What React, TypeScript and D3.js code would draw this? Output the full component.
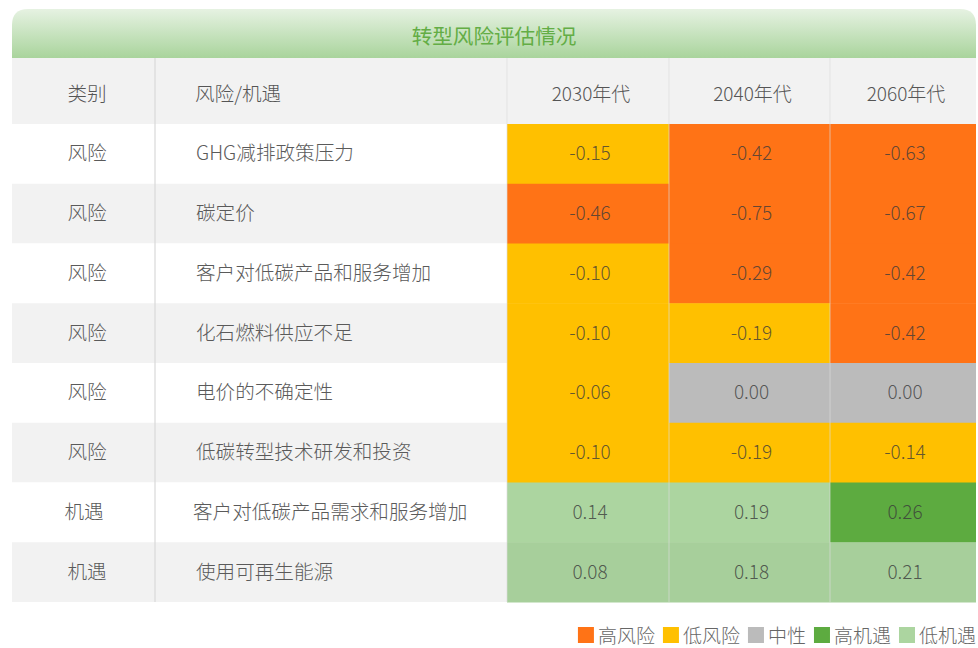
import React, { useRef, useEffect } from 'react';
import * as d3 from 'd3';

const title = '转型风险评估情况';
const headers = ['类别', '风险/机遇', '2030年代', '2040年代', '2060年代'];
const decades = ['2030年代', '2040年代', '2060年代'];
const types = ['风险', '风险', '风险', '风险', '风险', '风险', '机遇', '机遇'];
const items = [
  'GHG减排政策压力',
  '碳定价',
  '客户对低碳产品和服务增加',
  '化石燃料供应不足',
  '电价的不确定性',
  '低碳转型技术研发和投资',
  '客户对低碳产品需求和服务增加',
  '使用可再生能源',
];
const v2030 = [-0.15, -0.46, -0.1, -0.1, -0.06, -0.1, 0.14, 0.08];
const v2040 = [-0.42, -0.75, -0.29, -0.19, 0.0, -0.19, 0.19, 0.18];
const v2060 = [-0.63, -0.67, -0.42, -0.42, 0.0, -0.14, 0.26, 0.21];
const legendLabels = ['高风险', '低风险', '中性', '高机遇', '低机遇'];
const legendColors = ['#ff7316', '#ffc000', '#bbbbbb', '#5dab40', '#acd5a0'];

const W = 978;
const H = 648;
const FONT = '"Noto Sans CJK SC", "Noto Sans", sans-serif';

function App() {
  const ref = useRef<SVGSVGElement | null>(null);

  useEffect(() => {
    const svg = d3.select(ref.current);
    svg.selectAll('*').remove();

    const left = 12;
    const right = 976;
    const titleTop = 9;
    const headTop = 58;
    const bodyTop = 124;
    const bodyBottom = 602;
    const fs = 19.6;
    // column edges: 类别 | 风险/机遇 | three decades
    const colEdges = [left, 155, 507, 669, 830, right];

    const y = d3.scaleBand<number>()
      .domain(d3.range(items.length))
      .range([bodyTop, bodyBottom]);
    const yMid = (i: number) => y(i)! + y.bandwidth() / 2 - 2;

    const xDec = d3.scaleOrdinal<string, number>()
      .domain(decades)
      .range(colEdges.slice(2, 5));
    const decW = (d: string) => colEdges[decades.indexOf(d) + 3] - xDec(d);

    const color = d3.scaleThreshold<number, string>()
      .domain([-0.2, 0, 0.005, 0.25])
      .range([legendColors[0], legendColors[1], legendColors[2], legendColors[4], legendColors[3]]);

    const defs = svg.append('defs');
    const grad = defs.append('linearGradient')
      .attr('id', 'titleGrad')
      .attr('x1', 0).attr('y1', 0).attr('x2', 0).attr('y2', 1);
    grad.append('stop').attr('offset', '0%').attr('stop-color', '#e6f2e2');
    grad.append('stop').attr('offset', '100%').attr('stop-color', '#a9d49c');

    // title band with rounded top corners
    const r = 16;
    const tb = d3.path();
    tb.moveTo(left, headTop);
    tb.lineTo(left, titleTop + r);
    tb.quadraticCurveTo(left, titleTop, left + r, titleTop);
    tb.lineTo(right - r, titleTop);
    tb.quadraticCurveTo(right, titleTop, right, titleTop + r);
    tb.lineTo(right, headTop);
    tb.closePath();
    svg.append('path').attr('d', tb.toString()).attr('fill', 'url(#titleGrad)');

    svg.append('text')
      .attr('x', (left + right) / 2)
      .attr('y', (titleTop + headTop) / 2 + 1)
      .attr('text-anchor', 'middle')
      .attr('dominant-baseline', 'central')
      .attr('font-size', 20.6)
      .attr('fill', '#63ad45')
      .text(title);

    // header row
    svg.append('rect')
      .attr('x', left).attr('y', headTop)
      .attr('width', right - left).attr('height', bodyTop - headTop)
      .attr('fill', '#f2f2f2');

    const headY = (headTop + bodyTop) / 2 + 1;
    headers.forEach((h, i) => {
      const isItem = i === 1;
      svg.append('text')
        .attr('x', isItem ? 195 : i === 0 ? 87 : (colEdges[i] + colEdges[i + 1]) / 2 + 3)
        .attr('y', headY)
        .attr('text-anchor', isItem ? 'start' : 'middle')
        .attr('dominant-baseline', 'central')
        .attr('font-size', i >= 2 ? 19 : fs)
        .attr('font-weight', 300)
        .attr('fill', '#555')
        .text(h);
    });

    // body rows
    const rows = svg.append('g');
    rows.selectAll('rect')
      .data(items)
      .enter()
      .append('rect')
      .attr('x', left)
      .attr('y', (d, i) => y(i)!)
      .attr('width', colEdges[2] - left)
      .attr('height', y.bandwidth())
      .attr('fill', (d, i) => (i % 2 === 0 ? '#ffffff' : '#f2f2f2'));

    rows.selectAll('.type')
      .data(types)
      .enter()
      .append('text')
      .attr('class', 'type')
      .attr('x', (d, i) => (i === 6 ? 84 : 87))
      .attr('y', (d, i) => yMid(i))
      .attr('text-anchor', 'middle')
      .attr('dominant-baseline', 'central')
      .attr('font-size', fs)
      .attr('font-weight', 300)
      .attr('fill', '#5a5a5a')
      .text((d) => d);

    rows.selectAll('.item')
      .data(items)
      .enter()
      .append('text')
      .attr('class', 'item')
      .attr('x', (d, i) => (i === 6 ? 193 : 196))
      .attr('y', (d, i) => yMid(i))
      .attr('dominant-baseline', 'central')
      .attr('font-size', fs)
      .attr('font-weight', 300)
      .attr('fill', '#5a5a5a')
      .text((d) => d);

    // colored value cells
    const series = [v2030, v2040, v2060];
    decades.forEach((dec, c) => {
      const g = svg.append('g');
      g.selectAll('rect')
        .data(series[c])
        .enter()
        .append('rect')
        .attr('x', xDec(dec))
        .attr('y', (d, i) => y(i)!)
        .attr('width', decW(dec))
        .attr('height', y.bandwidth() + 0.5)
        .attr('fill', (d, i) => {
          const base = color(d);
          return i % 2 === 1 && base === legendColors[4]
            ? d3.color(base)!.darker(0.08).toString()
            : base;
        });
      g.selectAll('text')
        .data(series[c])
        .enter()
        .append('text')
        .attr('x', xDec(dec) + decW(dec) / 2 + 2)
        .attr('y', (d, i) => yMid(i))
        .attr('text-anchor', 'middle')
        .attr('dominant-baseline', 'central')
        .attr('font-size', 19)
        .attr('font-weight', 300)
        .attr('fill', '#3a3a3a')
        .attr('fill-opacity', 0.8)
        .text((d) => d3.format('.2f')(d).replace('\u2212', '-'));
    });

    // grid lines
    svg.append('line')
      .attr('x1', colEdges[1]).attr('x2', colEdges[1])
      .attr('y1', headTop).attr('y2', bodyBottom)
      .attr('stroke', '#d9d9d9').attr('stroke-width', 1.2);
    [colEdges[2], colEdges[3], colEdges[4]].forEach((x) => {
      svg.append('line')
        .attr('x1', x).attr('x2', x)
        .attr('y1', headTop).attr('y2', bodyBottom)
        .attr('stroke', '#dddddd').attr('stroke-width', 1.2)
        .attr('stroke-opacity', 0.55);
    });

    // legend, right aligned, laid out from measured text widths
    const lg = svg.append('g').attr('font-size', 19).attr('font-weight', 300);
    const sq = 16;
    const gap = 8;
    const ly = 634;
    const texts = legendLabels.map((l) =>
      lg.append('text')
        .attr('dominant-baseline', 'central')
        .attr('y', ly)
        .attr('fill', '#666')
        .text(l)
    );
    const widths = texts.map((t) => sq + 4 + (t.node() as SVGTextElement).getComputedTextLength());
    const total = d3.sum(widths) + gap * (legendLabels.length - 1);
    let x = right - total;
    legendLabels.forEach((l, i) => {
      lg.append('rect')
        .attr('x', x).attr('y', ly - sq / 2 + 1)
        .attr('width', sq).attr('height', sq)
        .attr('fill', legendColors[i]);
      texts[i].attr('x', x + sq + 4);
      x += widths[i] + gap;
    });
  }, []);

  return (
    <svg
      ref={ref}
      width={W}
      height={H}
      style={{ position: 'absolute', left: 0, top: 0, fontFamily: FONT, background: '#fff' }}
    />
  );
}

export default App;
